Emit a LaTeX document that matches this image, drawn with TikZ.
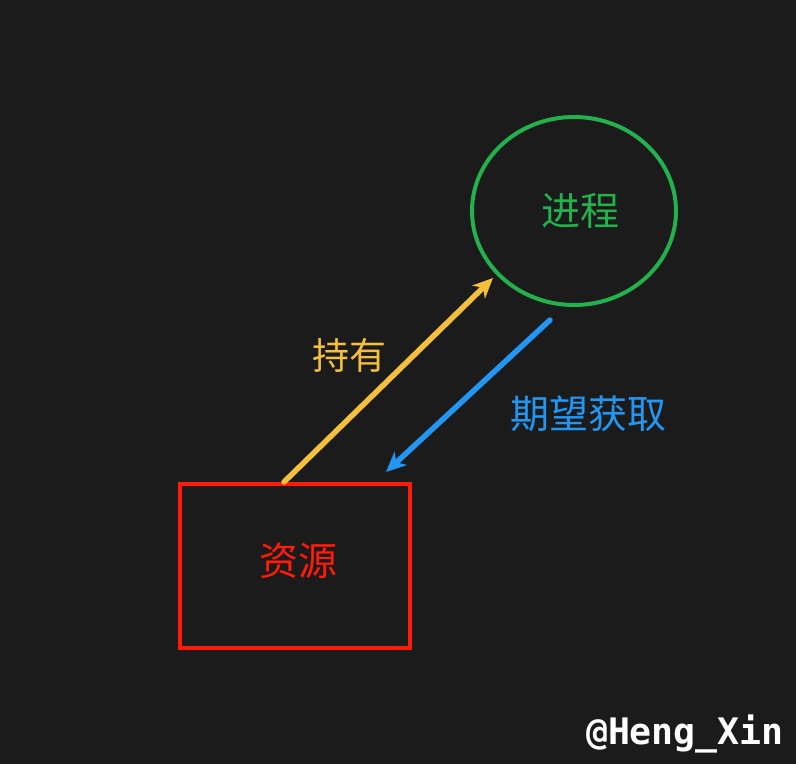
\documentclass[tikz,border=0pt]{standalone}
\usepackage{fontspec}
\newfontfamily\cjk{Noto Sans CJK SC}
\newfontfamily\wm{DejaVu Sans Mono}
\usetikzlibrary{arrows.meta,shapes.geometric}
\definecolor{bg}{HTML}{1B1B1B}
\definecolor{cgreen}{HTML}{22B14C}
\definecolor{cred}{HTML}{FF1A0A}
\definecolor{cyellow}{HTML}{F4C03C}
\definecolor{cblue}{HTML}{2196F3}
\tikzset{
  lbl/.style={font=\cjk\fontsize{39}{42}\selectfont, inner sep=0pt},
  conn/.style={line width=5.5pt, line cap=round, -{Stealth[length=20pt,width=18pt,inset=6pt]}}
}
\begin{document}
\begin{tikzpicture}[x=1pt,y=-1pt]
\fill[bg] (0,0) rectangle (796,764);
\useasboundingbox (0,0) rectangle (796,764);
\node[draw=cgreen, line width=4pt, ellipse, minimum width=204pt, minimum height=188pt, inner sep=0pt] (proc) at (574,211) {};
\node[lbl, text=cgreen] (proct) at (580,211) {进程};
\node[draw=cred, line width=4pt, minimum width=230pt, minimum height=164pt, inner sep=0pt] (res) at (295,566) {};
\node[lbl, text=cred] (rest) at (298,561) {资源};
\coordinate (y0) at (284,482);
\coordinate (y1) at (493,278);
\coordinate (b0) at (550,320);
\coordinate (b1) at (386,472);
\draw[conn, cyellow] (y0) -- (y1);
\draw[conn, cblue] (b0) -- (b1);
\node[lbl, text=cyellow, font=\cjk\fontsize{37}{40}\selectfont] (hold) at (349,355) {持有};
\node[lbl, text=cblue] (want) at (588,414) {期望获取};
\node[font=\wm\bfseries\fontsize{36.5}{40}\selectfont, text=white, inner sep=0pt, anchor=east] (wmk) at (784,734) {@Heng\_Xin};
\end{tikzpicture}
\end{document}
